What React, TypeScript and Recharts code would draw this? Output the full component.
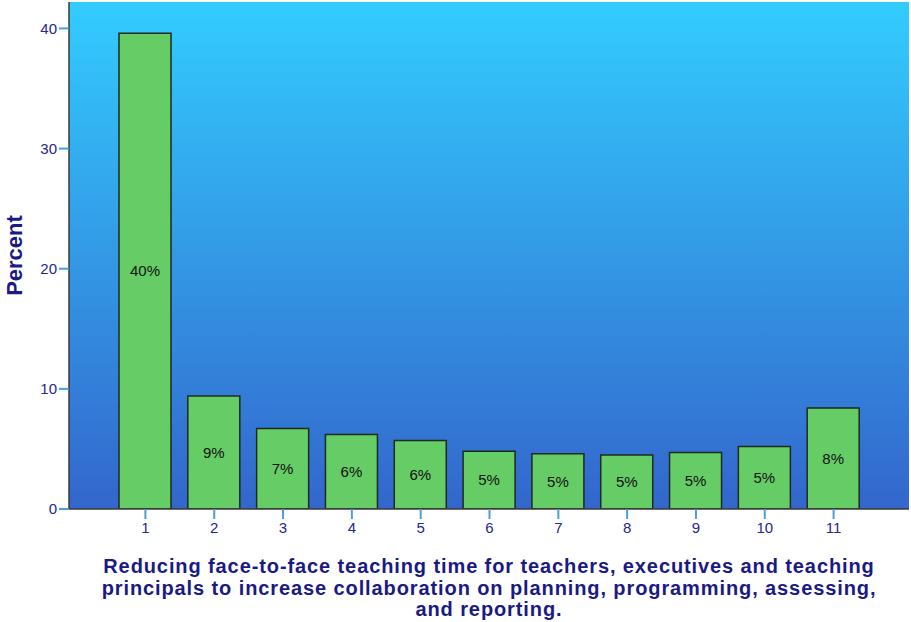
import React from "react";
import { BarChart, Bar, XAxis, YAxis, CartesianGrid, LabelList, Label } from "recharts";

const categories = ["1", "2", "3", "4", "5", "6", "7", "8", "9", "10", "11"];
const percents = [39.6, 9.4, 6.7, 6.2, 5.7, 4.8, 4.6, 4.5, 4.7, 5.2, 8.4];
const yTicks = [0, 10, 20, 30, 40];
const titleLines = [
  "Reducing face-to-face teaching time for teachers, executives and teaching",
  "principals to increase collaboration on planning, programming, assessing,",
  "and reporting.",
];
const yTitle = "Percent";

const data = categories.map((c, i) => ({ category: c, percent: percents[i] }));

const NAVY = "#1a1a84";
const TICK_TEXT = "#26268e";
const TICK_LINE = "#4a9fd2";
const BORDER = "#3a3a3a";
const FONT = "'Liberation Sans', Arial, sans-serif";

const XTitle = (props: any) => {
  const vb = props.viewBox || {};
  const cx = vb.x + vb.width / 2;
  const y0 = vb.y + 64;
  return (
    <text
      x={cx}
      y={y0}
      textAnchor="middle"
      fill={NAVY}
      fontFamily={FONT}
      fontWeight="bold"
      fontSize={20}
      letterSpacing={0.9}
    >
      {titleLines.map((l, i) => (
        <tspan key={i} x={cx} y={y0 + i * 21.5}>
          {l}
        </tspan>
      ))}
    </text>
  );
};

const YTitle = (props: any) => {
  const vb = props.viewBox || {};
  const cy = vb.y + vb.height / 2;
  const x = 22;
  return (
    <text
      x={x}
      y={cy}
      transform={`rotate(-90 ${x} ${cy})`}
      textAnchor="middle"
      fill={NAVY}
      fontFamily={FONT}
      fontWeight="bold"
      fontSize={22}
    >
      {yTitle}
    </text>
  );
};

export default function App() {
  return (
    <div style={{ position: "absolute", left: 0, top: 0, width: 911, height: 622, background: "#fff" }}>
      <BarChart width={911} height={622} data={data} margin={{ top: 2, right: 2, left: 0, bottom: 0 }}>
        <defs>
          <linearGradient id="bg" x1="0" y1="0" x2="0" y2="1">
            <stop offset="0%" stopColor="#33ccff" />
            <stop offset="100%" stopColor="#3366cc" />
          </linearGradient>
        </defs>
        <CartesianGrid horizontal={false} vertical={false} fill="url(#bg)" fillOpacity={1} />
        <XAxis
          dataKey="category"
          height={113}
          padding={{ left: 42, right: 41 }}
          tickSize={10}
          tickMargin={3}
          axisLine={{ stroke: BORDER, strokeWidth: 1.5 }}
          tickLine={{ stroke: TICK_LINE, strokeWidth: 2 }}
          tick={{ fill: TICK_TEXT, fontSize: 15, fontFamily: FONT }}
          interval={0}
        >
          <Label content={XTitle} />
        </XAxis>
        <XAxis
          xAxisId="top"
          orientation="top"
          height={0}
          tick={false}
          tickLine={false}
          axisLine={{ stroke: BORDER, strokeWidth: 1.5 }}
        />
        <YAxis
          width={69}
          domain={[0, 42.2]}
          ticks={yTicks}
          allowDataOverflow
          tickSize={10}
          tickMargin={2}
          axisLine={{ stroke: BORDER, strokeWidth: 1.5 }}
          tickLine={{ stroke: TICK_LINE, strokeWidth: 2 }}
          tick={{ fill: TICK_TEXT, fontSize: 15, fontFamily: FONT }}
        >
          <Label content={YTitle} />
        </YAxis>
        <YAxis
          yAxisId="right"
          orientation="right"
          width={0}
          tick={false}
          tickLine={false}
          axisLine={{ stroke: BORDER, strokeWidth: 1.5 }}
        />
        <Bar dataKey="percent" fill="#66cc66" stroke="#1e2a1e" strokeWidth={1.5} barSize={52} isAnimationActive={false}>
          <LabelList
            dataKey="percent"
            position="center"
            formatter={(v: any) => `${Math.round(Number(v))}%`}
            fill="#111"
            fontSize={15}
            fontFamily={FONT}
          />
        </Bar>
      </BarChart>
    </div>
  );
}
